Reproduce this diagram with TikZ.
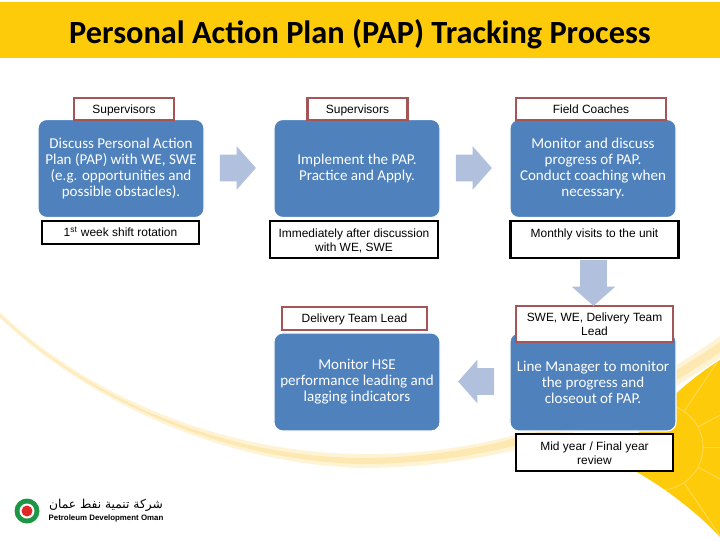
\documentclass[tikz,border=0pt]{standalone}
\usepackage{fontspec}
\setmainfont{Carlito}
\newfontfamily\labelfont{Liberation Sans}
\newfontfamily\arabicfont[Script=Arabic]{DejaVu Sans}
\TeXXeTstate=1
\usetikzlibrary{shapes.arrows}
\definecolor{pdoyellow}{RGB}{254,203,10}
\definecolor{pdowheel}{RGB}{254,216,80}
\definecolor{pdocream}{RGB}{254,243,212}
\definecolor{pdosand}{RGB}{253,232,178}
\definecolor{planblue}{RGB}{79,129,189}
\definecolor{flowblue}{RGB}{176,192,221}
\definecolor{whored}{RGB}{165,85,85}
\definecolor{logogreen}{RGB}{30,150,70}
\definecolor{logored}{RGB}{225,40,40}
\newcommand{\tallline}{\rule{0pt}{10pt}}
\begin{document}
\begin{tikzpicture}[x=0.025cm, y=-0.025cm,
	plan/.style={draw=white, line width=0.8pt, fill=planblue, rounded corners=2.2mm, minimum width=4.15cm, minimum height=2.45cm, inner sep=0pt, align=center, text=white, font=\fontsize{10.7}{11.4}\selectfont},
	who/.style={draw=whored, fill=white, line width=1.5pt, inner sep=0pt, align=center, execute at begin node={\rule{0pt}{9pt}}, execute at end node=\strut, font=\labelfont\fontsize{8.5}{10}\selectfont},
	when/.style={draw=black, fill=white, line width=1.6pt, inner sep=0pt, align=center, execute at begin node={\rule{0pt}{9pt}}, execute at end node=\strut, font=\labelfont\fontsize{8.5}{10}\selectfont},
	flow/.style={single arrow, fill=flowblue, inner xsep=0pt, inner ysep=0.325cm, minimum height=0.9cm, single arrow head extend=0.215cm, single arrow tip angle=97, rotate=#1}]
	\useasboundingbox (0,0) rectangle (720,540);
	\begin{scope}
		\clip (720,360) .. controls (680,385) and (640,425) .. (618,462) .. controls (655,480) and (695,510) .. (720,537) -- cycle;
		\fill[pdoyellow] (600,340) rectangle (720,540);
		\draw[pdowheel, line width=0.7pt] (660,447) circle (43);
		\foreach \a in {0,28,56,84,-28,-56,-84}
			\draw[pdowheel, line width=0.7pt] (660,447) ++(\a:43) -- ++(\a:70);
	\end{scope}
	\fill[pdocream] (0,312) .. controls (70,380) and (200,452) .. (360,454) .. controls (500,456) and (620,408) .. (720,336) -- (720,358) .. controls (620,427) and (500,468) .. (360,468) .. controls (200,462) and (70,385) .. (0,318) -- cycle;
	\fill[pdosand] (0,315) .. controls (70,382) and (200,456) .. (360,458) .. controls (500,458) and (620,412) .. (720,342) -- (720,352) .. controls (620,422) and (500,464) .. (360,464) .. controls (200,459) and (70,383) .. (0,316) -- cycle;
	\fill[pdoyellow] (0,2) rectangle (720,58);
	\node (Title) at (360,34) {\fontsize{23}{27}\selectfont\bfseries Personal Action Plan (PAP) Tracking Process};

	\node[plan] (Discuss) at (121,168.5) {Discuss Personal Action\\Plan (PAP) with WE, SWE\\(e.g. opportunities and\\possible obstacles).};
	\node[plan] (Implement) at (357,168.5) {Implement the PAP.\\Practice and Apply.};
	\node[plan] (Visit) at (593,168.5) {Monitor and discuss\\progress of PAP.\\Conduct coaching when\\necessary.};
	\node[plan] (Hse) at (357,382) {Monitor HSE\\performance leading and\\lagging indicators};
	\node[plan] (Manager) at (593,382) {Line Manager to monitor\\the progress and\\closeout of PAP.};

	\node[who, minimum width=2.5cm, minimum height=0.56cm] (W1) at (124,109) {Supervisors};
	\node[who, minimum width=2.5cm, minimum height=0.56cm] (W2) at (357.5,109) {Supervisors};
	\node[who, minimum width=3.75cm, minimum height=0.56cm] (W3) at (591,109) {Field Coaches};
	\node[who, minimum width=3.62cm, minimum height=0.56cm] (W4) at (354.5,318.5) {Delivery Team Lead};
	\node[who, minimum width=3.92cm, minimum height=0.88cm] (W5) at (594.5,324) {\tallline SWE, WE, Delivery Team\\Lead};

	\node[when, minimum width=3.92cm, minimum height=0.56cm] (T1) at (120.5,232.5) {1\textsuperscript{st} week shift rotation};
	\node[when, minimum width=4.2cm, minimum height=0.92cm] (T2) at (354,239.5) {\tallline Immediately after discussion\\with WE, SWE};
	\node[when, minimum width=4.2cm, minimum height=0.92cm] (T3) at (594.5,239.5) {\tallline Monthly visits to the unit\\\strut};
	\node[when, minimum width=3.92cm, minimum height=0.92cm] (T4) at (594.5,452.5) {\tallline Mid year / Final year\\review};

	\node[flow=0] (F1) at (232,168) {};
	\node[flow=0] (F2) at (468,168) {};
	\node[flow=-90, minimum height=1.15cm] (F3) at (593.5,277) {};
	\node[flow=180] (F4) at (482,381.5) {};

	\fill[logogreen] (27,511) circle (12.5);
	\fill[white] (27,511) circle (7.5);
	\fill[logored] (27,511) circle (5.5);
	\node[inner sep=0pt, font=\arabicfont\fontsize{8.7}{10}\selectfont] (LogoAr) at (106,505) {\beginR شركة تنمية نفط عمان\endR};
	\node[inner sep=0pt, font=\labelfont\bfseries\fontsize{5.6}{6}\selectfont] (LogoEn) at (106,518) {Petroleum Development Oman};
\end{tikzpicture}
\end{document}
